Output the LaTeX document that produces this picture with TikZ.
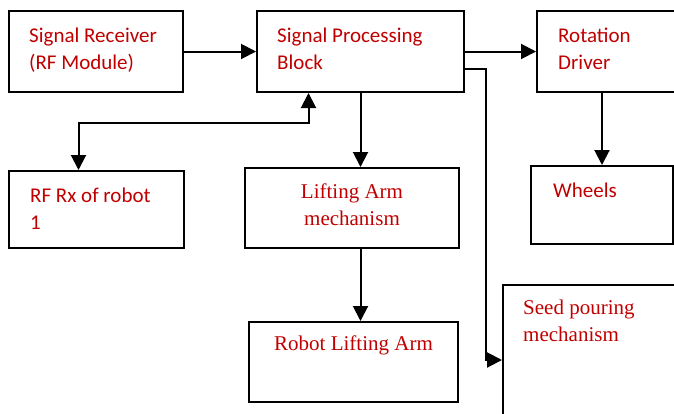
\documentclass[tikz,border=0pt]{standalone}
\usepackage{fontspec}
\setmainfont{Carlito}
\newfontfamily\timesfont{Liberation Serif}
\usepackage{xcolor}
\usetikzlibrary{arrows.meta}
\definecolor{textred}{RGB}{192,0,0}
\tikzset{
  bloco/.style={draw, line width=2pt, anchor=north west, inner sep=0pt},
  rotulo/.style={anchor=base west, inner sep=0pt, text=textred, align=left, font=\fontsize{21}{27}\selectfont},
  rotuloserif/.style={rotulo, font=\fontsize{21}{27}\timesfont},
  seta/.style={-{Triangle[length=15pt,width=15pt]}, line width=2pt},
  setadupla/.style={{Triangle[length=15pt,width=15pt]}-{Triangle[length=15pt,width=15pt]}, line width=2pt},
}
\begin{document}
\begin{tikzpicture}[x=1pt, y=-1pt]
  \clip (0,0) rectangle (674,413);
  % blocks
  \node[bloco, minimum width=174pt, minimum height=81pt] (recv) at (8,10) {};
  \node[bloco, minimum width=207pt, minimum height=81pt] (proc) at (256,10) {};
  \node[bloco, minimum width=160pt, minimum height=81pt] (rot) at (536,10) {};
  \node[bloco, minimum width=175pt, minimum height=77pt] (rx) at (8,170) {};
  \node[bloco, minimum width=214pt, minimum height=80pt] (lift) at (244,167) {};
  \node[bloco, minimum width=142pt, minimum height=78pt] (wheels) at (530,165) {};
  \node[bloco, minimum width=209pt, minimum height=80pt] (robot) at (248,321) {};
  \node[bloco, minimum width=190pt, minimum height=150pt] (seed) at (502,284) {};
  % texts (base = last line)
  \node[rotulo] (recvtxt) at ([shift={(21,59)}]recv.north west) {Signal Receiver\\(RF Module)};
  \node[rotulo] (proctxt) at ([shift={(21,59)}]proc.north west) {Signal Processing\\Block};
  \node[rotulo] (rottxt) at ([shift={(22,59)}]rot.north west) {Rotation\\Driver};
  \node[rotulo] (rxtxt) at ([shift={(22,59)}]rx.north west) {RF Rx of robot\\1};
  \node[rotulo] (wheelstxt) at ([shift={(23,32)}]wheels.north west) {Wheels};
  \node[rotuloserif, anchor=base, align=center] (lifttxt) at ([yshift=-58pt]lift.north) {Lifting Arm\\mechanism};
  \node[rotuloserif, anchor=base] (robottxt) at ([yshift=-29pt]robot.north) {Robot Lifting Arm};
  \node[rotuloserif] (seedtxt) at ([shift={(21,57)}]seed.north west) {Seed pouring\\mechanism};
  % connectors
  \draw[seta] (recv) -- (proc);
  \draw[seta] (proc) -- (rot);
  \draw[seta] (proc.south) -- (proc.south |- lift.north);
  \draw[seta] (proc.south |- lift.south) -- (proc.south |- robot.north);
  \draw[seta] (rot.south -| wheels.north) -- (wheels.north);
  \draw[seta] ([yshift=-17pt]proc.east) -- ++(21,0) |- (seed.west);
  \draw[setadupla] ([xshift=-18pt]rx.north) -- ++(0,-47) -| ([xshift=-52pt]proc.south);
\end{tikzpicture}
\end{document}
